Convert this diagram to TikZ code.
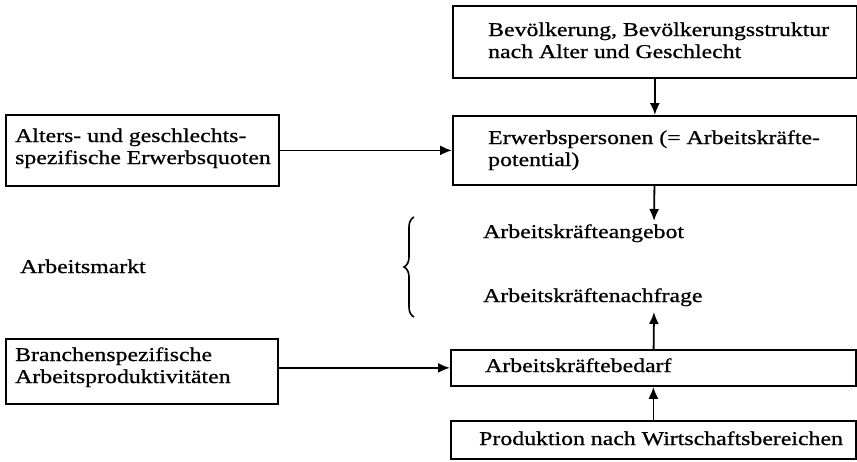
\documentclass[tikz,border=0pt]{standalone}
\usepackage{fontspec}
\setmainfont{Liberation Serif}[FakeStretch=1.22,FakeBold=0.8]
\usetikzlibrary{arrows.meta,decorations.pathreplacing}
\begin{document}
\begin{tikzpicture}[x=1pt,y=-1pt,
  box/.style={draw, line width=1.8pt, inner sep=0pt, anchor=north west},
  txt/.style={inner sep=0pt, anchor=base west, align=left,
    font=\fontsize{19.5}{22}\selectfont},
  arr/.style={line width=1.8pt, -{Latex[length=12pt,width=10pt]}}]
\useasboundingbox (0,0) rectangle (857,461);
% boxes
\node[box, minimum width=404pt, minimum height=72pt] (b1) at (452,5) {};
\node[box, minimum width=404pt, minimum height=69pt] (b2) at (452,115) {};
\node[box, minimum width=273pt, minimum height=71pt] (la) at (5,114) {};
\node[box, minimum width=272pt, minimum height=65pt] (lb) at (5,338) {};
\node[box, minimum width=405pt, minimum height=36pt] (bed) at (450,349) {};
\node[box, minimum width=405pt, minimum height=38pt] (prod) at (450,420) {};
% texts (base = baseline of last line)
\node[txt] (t1) at (488,58) {Bevölkerung, Bevölkerungsstruktur\\nach Alter und Geschlecht};
\node[txt] (t2) at (488,166) {Erwerbspersonen (= Arbeitskräfte-\\potential)};
\node[txt] (ta) at (15,164) {Alters- und geschlechts-\\spezifische Erwerbsquoten};
\node[txt] (tb) at (15,383) {Branchenspezifische\\Arbeitsproduktivitäten};
\node[txt] (tm) at (20,273) {Arbeitsmarkt};
\node[txt] (tang) at (483,238) {Arbeitskräfteangebot};
\node[txt] (tnach) at (483,302) {Arbeitskräftenachfrage};
\node[txt] (tbed) at (485,372) {Arbeitskräftebedarf};
\node[txt] (tprod) at (479,445) {Produktion nach Wirtschaftsbereichen};
% connectors
\coordinate (e1) at (654,221);
\coordinate (e2) at (654,312);
\draw[arr] (b1) -- (b2);
\draw[arr] (la.east |- b2.west) -- (b2.west);
\draw[arr] (b2) -- (e1);
\draw[arr] (bed) -- (e2);
\draw[arr] (bed.west -| lb.east) -- (bed.west);
\draw[arr] (prod) -- (bed);
% brace
\draw[line width=1.6pt, decorate, decoration={brace, amplitude=10pt}] (414,317) -- (414,217);
\end{tikzpicture}
\end{document}
